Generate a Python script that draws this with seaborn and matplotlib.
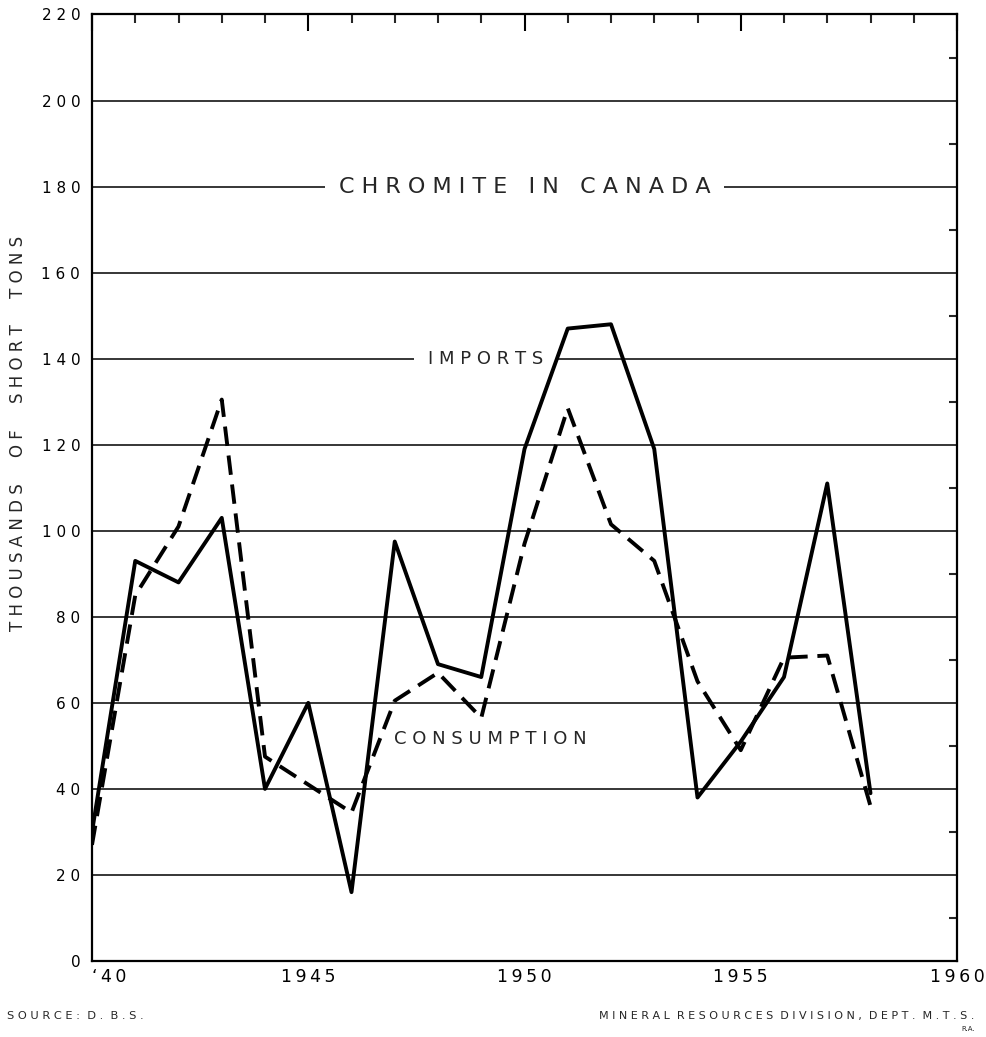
import pandas as pd
import seaborn as sns
import matplotlib.pyplot as plt

# chromite in Canada, thousands of short tons
years = list(range(1940, 1959))
imports = [30, 93, 88, 103, 40, 60, 16, 97.5, 69, 66, 119, 147, 148, 119, 38, 51, 66, 111, 39]
consumption = [27, 85, 101, 130.5, 47.5, 41, 34.5, 60.5, 67, 56.5, 97, 128.5, 101.5, 93, 65, 49, 70.5, 71, 36]

x_major = [1940, 1945, 1950, 1955, 1960]
x_labels = ['\u201840', '1945', '1950', '1955', '1960']
y_major = list(range(0, 221, 20))
y_minor = list(range(10, 220, 20))


def spaced(text, sep=' ', gap='   '):
    """Spread out letters the way the old hand lettering does."""
    return gap.join(sep.join(w) for w in text.split(' '))


df = pd.DataFrame({'year': years, 'imports': imports, 'consumption': consumption})

sns.set_style('white')
plt.rcParams['font.family'] = ['DejaVu Sans']

W, H = 987, 1037
fig = plt.figure(figsize=(W / 100, H / 100), dpi=100)
left, right, bottom, top = 92, 957, 961, 14.5
ax = fig.add_axes([left / W, (H - bottom) / H, (right - left) / W, (bottom - top) / H])

sns.lineplot(data=df, x='year', y='imports', ax=ax, color='black',
             linewidth=2.8, zorder=3)
sns.lineplot(data=df, x='year', y='consumption', ax=ax, color='black',
             linewidth=2.8, linestyle=(0, (5, 2.5)), zorder=3)

ax.set_xlim(1940, 1960)
ax.set_ylim(0, 220)
ax.set_xlabel('')
ax.set_ylabel('')

ax.set_xticks(x_major)
ax.set_xticklabels([spaced(t, sep='\u2009') for t in x_labels])
ax.set_xticks(years + [1959, 1960], minor=True)
ax.set_yticks(y_major)
ax.set_yticklabels([spaced(str(v)) for v in y_major])
ax.set_yticks(y_minor, minor=True)

ax.tick_params(axis='x', which='major', direction='in', length=12, width=1.5,
               top=True, labelsize=12.5, pad=5, colors='black')
ax.tick_params(axis='x', which='minor', direction='in', length=6.5, width=1.5, top=True)
ax.tick_params(axis='y', which='major', direction='in', length=0, right=True,
               labelsize=11, pad=8.5, colors='black')
ax.tick_params(axis='y', which='minor', direction='in', length=6, width=1.5, right=True)
ax.get_xticklabels()[0].set_horizontalalignment('left')

for s in ax.spines.values():
    s.set_visible(True)
    s.set_color('black')
    s.set_linewidth(1.6)

ax.set_axisbelow(True)
ax.yaxis.grid(True, color='black', linewidth=1.1)
ax.xaxis.grid(False)

ax.text(1950, 180, spaced('CHROMITE IN CANADA'), ha='center', va='center',
        fontsize=16, zorder=1.5,
        bbox=dict(boxstyle='square,pad=0.6', fc='white', ec='none'))
ax.text(1949.1, 140, spaced('IMPORTS'), ha='center', va='center',
        fontsize=13, zorder=1.5,
        bbox=dict(boxstyle='square,pad=0.75', fc='white', ec='none'))
ax.text(1949.2, 51.5, spaced('CONSUMPTION'), ha='center', va='center',
        fontsize=13, zorder=1.5)

fig.text(18 / W, 1 - 433 / H, spaced('THOUSANDS OF SHORT TONS', gap='     '),
         rotation=90, ha='center', va='center', fontsize=12)
fig.text(7 / W, (H - 1019) / H, spaced('SOURCE: D. B.S.', gap='  '),
         ha='left', va='baseline', fontsize=8.2)
fig.text(974 / W, (H - 1019) / H, spaced('MINERAL RESOURCES DIVISION, DEPT. M.T.S.', gap='  '),
         ha='right', va='baseline', fontsize=8)
fig.text(975 / W, (H - 1031) / H, 'R.A.', ha='right', va='baseline', fontsize=5)

fig.savefig('out.png', dpi=100, facecolor='white')
